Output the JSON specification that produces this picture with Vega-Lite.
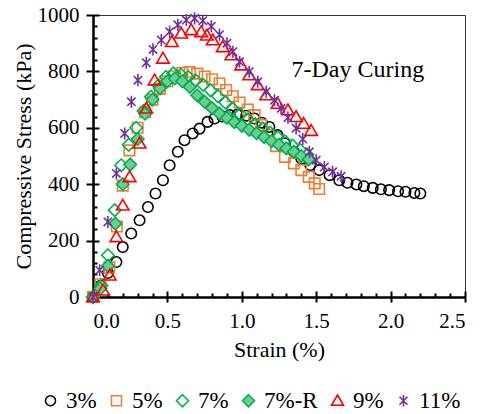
{
  "$schema": "https://vega.github.io/schema/vega-lite/v6.json",
  "width": 372,
  "height": 282,
  "autosize": {"type": "none"},
  "padding": {"left": 93, "top": 15, "right": 20, "bottom": 117},
  "background": "white",
  "config": {
    "view": {"stroke": "#333333", "strokeWidth": 1},
    "font": "Liberation Serif",
    "axis": {"grid": false, "domainColor": "black", "tickColor": "black", "domainWidth": 2.5, "tickWidth": 2, "labelColor": "black", "titleColor": "black", "labelFont": "Liberation Serif", "titleFont": "Liberation Serif", "labelFontSize": 21, "titleFontSize": 22, "titleFontWeight": "normal"}
  },
  "datasets": {
    "pts": [
      {"series": "3%", "strain": 0, "stress": 0},
      {"series": "3%", "strain": 0.05, "stress": 40},
      {"series": "3%", "strain": 0.1, "stress": 85},
      {"series": "3%", "strain": 0.157, "stress": 124},
      {"series": "3%", "strain": 0.2, "stress": 177},
      {"series": "3%", "strain": 0.257, "stress": 225},
      {"series": "3%", "strain": 0.313, "stress": 272},
      {"series": "3%", "strain": 0.369, "stress": 319},
      {"series": "3%", "strain": 0.42, "stress": 367},
      {"series": "3%", "strain": 0.47, "stress": 414},
      {"series": "3%", "strain": 0.515, "stress": 467},
      {"series": "3%", "strain": 0.57, "stress": 515},
      {"series": "3%", "strain": 0.615, "stress": 556},
      {"series": "3%", "strain": 0.67, "stress": 580},
      {"series": "3%", "strain": 0.716, "stress": 597},
      {"series": "3%", "strain": 0.77, "stress": 621},
      {"series": "3%", "strain": 0.817, "stress": 633},
      {"series": "3%", "strain": 0.87, "stress": 640},
      {"series": "3%", "strain": 0.92, "stress": 645},
      {"series": "3%", "strain": 0.97, "stress": 647},
      {"series": "3%", "strain": 1.03, "stress": 643},
      {"series": "3%", "strain": 1.085, "stress": 633},
      {"series": "3%", "strain": 1.135, "stress": 618},
      {"series": "3%", "strain": 1.185, "stress": 603},
      {"series": "3%", "strain": 1.24, "stress": 574},
      {"series": "3%", "strain": 1.29, "stress": 545},
      {"series": "3%", "strain": 1.35, "stress": 515},
      {"series": "3%", "strain": 1.4, "stress": 490},
      {"series": "3%", "strain": 1.46, "stress": 468},
      {"series": "3%", "strain": 1.52, "stress": 450},
      {"series": "3%", "strain": 1.59, "stress": 432},
      {"series": "3%", "strain": 1.655, "stress": 414},
      {"series": "3%", "strain": 1.71, "stress": 405},
      {"series": "3%", "strain": 1.77, "stress": 399},
      {"series": "3%", "strain": 1.82, "stress": 393},
      {"series": "3%", "strain": 1.88, "stress": 387},
      {"series": "3%", "strain": 1.935, "stress": 382},
      {"series": "3%", "strain": 1.99, "stress": 379},
      {"series": "3%", "strain": 2.05, "stress": 375},
      {"series": "3%", "strain": 2.1, "stress": 373},
      {"series": "3%", "strain": 2.16, "stress": 369},
      {"series": "3%", "strain": 2.2, "stress": 367},
      {"series": "5%", "strain": 0, "stress": 0},
      {"series": "5%", "strain": 0.05, "stress": 45},
      {"series": "5%", "strain": 0.11, "stress": 105},
      {"series": "5%", "strain": 0.16, "stress": 250},
      {"series": "5%", "strain": 0.2, "stress": 395},
      {"series": "5%", "strain": 0.245, "stress": 520},
      {"series": "5%", "strain": 0.3, "stress": 600},
      {"series": "5%", "strain": 0.35, "stress": 655},
      {"series": "5%", "strain": 0.4, "stress": 700},
      {"series": "5%", "strain": 0.45, "stress": 738},
      {"series": "5%", "strain": 0.5, "stress": 765},
      {"series": "5%", "strain": 0.55, "stress": 783},
      {"series": "5%", "strain": 0.6, "stress": 795},
      {"series": "5%", "strain": 0.65, "stress": 798},
      {"series": "5%", "strain": 0.7, "stress": 792},
      {"series": "5%", "strain": 0.75, "stress": 782},
      {"series": "5%", "strain": 0.8, "stress": 772},
      {"series": "5%", "strain": 0.85, "stress": 757},
      {"series": "5%", "strain": 0.895, "stress": 734},
      {"series": "5%", "strain": 0.94, "stress": 712},
      {"series": "5%", "strain": 0.985, "stress": 690},
      {"series": "5%", "strain": 1.04, "stress": 665},
      {"series": "5%", "strain": 1.085, "stress": 645},
      {"series": "5%", "strain": 1.13, "stress": 610},
      {"series": "5%", "strain": 1.18, "stress": 575},
      {"series": "5%", "strain": 1.23, "stress": 535},
      {"series": "5%", "strain": 1.29, "stress": 497},
      {"series": "5%", "strain": 1.35, "stress": 474},
      {"series": "5%", "strain": 1.4, "stress": 450},
      {"series": "5%", "strain": 1.45, "stress": 426},
      {"series": "5%", "strain": 1.49, "stress": 403},
      {"series": "5%", "strain": 1.52, "stress": 383},
      {"series": "7%", "strain": 0, "stress": 0},
      {"series": "7%", "strain": 0.056, "stress": 41},
      {"series": "7%", "strain": 0.1, "stress": 148},
      {"series": "7%", "strain": 0.146, "stress": 308},
      {"series": "7%", "strain": 0.19, "stress": 467},
      {"series": "7%", "strain": 0.24, "stress": 540},
      {"series": "7%", "strain": 0.29, "stress": 600},
      {"series": "7%", "strain": 0.34, "stress": 660},
      {"series": "7%", "strain": 0.39, "stress": 710},
      {"series": "7%", "strain": 0.44, "stress": 750},
      {"series": "7%", "strain": 0.49, "stress": 780},
      {"series": "7%", "strain": 0.54, "stress": 793},
      {"series": "7%", "strain": 0.59, "stress": 788},
      {"series": "7%", "strain": 0.64, "stress": 780},
      {"series": "7%", "strain": 0.69, "stress": 768},
      {"series": "7%", "strain": 0.74, "stress": 752},
      {"series": "7%", "strain": 0.79, "stress": 733},
      {"series": "7%", "strain": 0.84, "stress": 712},
      {"series": "7%", "strain": 0.89, "stress": 690},
      {"series": "7%", "strain": 0.94, "stress": 668},
      {"series": "7%", "strain": 0.99, "stress": 648},
      {"series": "7%", "strain": 1.04, "stress": 630},
      {"series": "7%", "strain": 1.09, "stress": 613},
      {"series": "7%", "strain": 1.14, "stress": 598},
      {"series": "7%", "strain": 1.19, "stress": 583},
      {"series": "7%", "strain": 1.24, "stress": 567},
      {"series": "7%", "strain": 1.29, "stress": 552},
      {"series": "7%", "strain": 1.34, "stress": 537},
      {"series": "7%", "strain": 1.39, "stress": 522},
      {"series": "7%", "strain": 1.44, "stress": 505},
      {"series": "7%-R", "strain": 0, "stress": 0},
      {"series": "7%-R", "strain": 0.05, "stress": 30},
      {"series": "7%-R", "strain": 0.1, "stress": 110},
      {"series": "7%-R", "strain": 0.15, "stress": 260},
      {"series": "7%-R", "strain": 0.2, "stress": 400},
      {"series": "7%-R", "strain": 0.25, "stress": 470},
      {"series": "7%-R", "strain": 0.3, "stress": 560},
      {"series": "7%-R", "strain": 0.35, "stress": 650},
      {"series": "7%-R", "strain": 0.4, "stress": 700},
      {"series": "7%-R", "strain": 0.45, "stress": 740},
      {"series": "7%-R", "strain": 0.5, "stress": 765},
      {"series": "7%-R", "strain": 0.55, "stress": 775},
      {"series": "7%-R", "strain": 0.6, "stress": 765},
      {"series": "7%-R", "strain": 0.65, "stress": 745},
      {"series": "7%-R", "strain": 0.7, "stress": 715},
      {"series": "7%-R", "strain": 0.75, "stress": 692},
      {"series": "7%-R", "strain": 0.8, "stress": 670},
      {"series": "7%-R", "strain": 0.85, "stress": 651},
      {"series": "7%-R", "strain": 0.9, "stress": 635},
      {"series": "7%-R", "strain": 0.95, "stress": 620},
      {"series": "7%-R", "strain": 1.0, "stress": 607},
      {"series": "7%-R", "strain": 1.05, "stress": 593},
      {"series": "7%-R", "strain": 1.1, "stress": 580},
      {"series": "7%-R", "strain": 1.15, "stress": 567},
      {"series": "7%-R", "strain": 1.2, "stress": 553},
      {"series": "7%-R", "strain": 1.25, "stress": 540},
      {"series": "7%-R", "strain": 1.3, "stress": 527},
      {"series": "7%-R", "strain": 1.35, "stress": 515},
      {"series": "7%-R", "strain": 1.4, "stress": 500},
      {"series": "7%-R", "strain": 1.45, "stress": 488},
      {"series": "9%", "strain": 0, "stress": 0},
      {"series": "9%", "strain": 0.067, "stress": 24},
      {"series": "9%", "strain": 0.112, "stress": 77},
      {"series": "9%", "strain": 0.157, "stress": 213},
      {"series": "9%", "strain": 0.2, "stress": 325},
      {"series": "9%", "strain": 0.246, "stress": 426},
      {"series": "9%", "strain": 0.313, "stress": 545},
      {"series": "9%", "strain": 0.358, "stress": 669},
      {"series": "9%", "strain": 0.414, "stress": 769},
      {"series": "9%", "strain": 0.47, "stress": 846},
      {"series": "9%", "strain": 0.53, "stress": 905},
      {"series": "9%", "strain": 0.593, "stress": 935},
      {"series": "9%", "strain": 0.66, "stress": 947},
      {"series": "9%", "strain": 0.727, "stress": 940},
      {"series": "9%", "strain": 0.765, "stress": 928},
      {"series": "9%", "strain": 0.805, "stress": 911},
      {"series": "9%", "strain": 0.872, "stress": 887},
      {"series": "9%", "strain": 0.93, "stress": 858},
      {"series": "9%", "strain": 0.996, "stress": 822},
      {"series": "9%", "strain": 1.05, "stress": 787},
      {"series": "9%", "strain": 1.107, "stress": 752},
      {"series": "9%", "strain": 1.164, "stress": 716},
      {"series": "9%", "strain": 1.24, "stress": 686},
      {"series": "9%", "strain": 1.31, "stress": 663},
      {"series": "9%", "strain": 1.365, "stress": 639},
      {"series": "9%", "strain": 1.415, "stress": 615},
      {"series": "9%", "strain": 1.466, "stress": 590},
      {"series": "11%", "strain": 0, "stress": 0},
      {"series": "11%", "strain": 0.045, "stress": 95},
      {"series": "11%", "strain": 0.1, "stress": 266},
      {"series": "11%", "strain": 0.157, "stress": 438},
      {"series": "11%", "strain": 0.213, "stress": 580},
      {"series": "11%", "strain": 0.258, "stress": 692},
      {"series": "11%", "strain": 0.302, "stress": 769},
      {"series": "11%", "strain": 0.358, "stress": 831},
      {"series": "11%", "strain": 0.403, "stress": 878},
      {"series": "11%", "strain": 0.459, "stress": 911},
      {"series": "11%", "strain": 0.515, "stress": 941},
      {"series": "11%", "strain": 0.57, "stress": 965},
      {"series": "11%", "strain": 0.627, "stress": 982},
      {"series": "11%", "strain": 0.683, "stress": 988},
      {"series": "11%", "strain": 0.738, "stress": 980},
      {"series": "11%", "strain": 0.795, "stress": 960},
      {"series": "11%", "strain": 0.85, "stress": 930},
      {"series": "11%", "strain": 0.9, "stress": 900},
      {"series": "11%", "strain": 0.94, "stress": 870},
      {"series": "11%", "strain": 0.985, "stress": 834},
      {"series": "11%", "strain": 1.05, "stress": 799},
      {"series": "11%", "strain": 1.107, "stress": 763},
      {"series": "11%", "strain": 1.164, "stress": 728},
      {"series": "11%", "strain": 1.22, "stress": 698},
      {"series": "11%", "strain": 1.264, "stress": 669},
      {"series": "11%", "strain": 1.31, "stress": 636},
      {"series": "11%", "strain": 1.365, "stress": 598},
      {"series": "11%", "strain": 1.41, "stress": 560},
      {"series": "11%", "strain": 1.454, "stress": 515},
      {"series": "11%", "strain": 1.5, "stress": 485},
      {"series": "11%", "strain": 1.555, "stress": 461},
      {"series": "11%", "strain": 1.61, "stress": 444},
      {"series": "11%", "strain": 1.667, "stress": 428}
    ],
    "note": [{"label": "7-Day Curing", "strain": 1.78, "stress": 805}]
  },
  "layer": [
    {
      "data": {"name": "pts"},
      "mark": {"type": "point", "opacity": 1, "size": 110, "clip": false},
      "encoding": {
        "x": {"field": "strain", "type": "quantitative", "scale": {"domain": [0, 2.5], "nice": false},
          "axis": {"title": "Strain (%)", "values": [0, 0.5, 1, 1.5, 2, 2.5], "format": ".1f", "tickSize": 5, "labelPadding": 8, "titlePadding": 8, "labelFont": "Liberation Serif", "titleFont": "Liberation Serif"}},
        "y": {"field": "stress", "type": "quantitative", "scale": {"domain": [0, 1000], "nice": false},
          "axis": {"title": "Compressive Stress (kPa)", "values": [0, 200, 400, 600, 800, 1000], "format": "d", "tickSize": 7, "labelPadding": 7, "titlePadding": 2, "labelFont": "Liberation Serif", "titleFont": "Liberation Serif"}},
        "shape": {"field": "series", "type": "nominal",
          "scale": {"domain": ["3%", "5%", "7%", "7%-R", "9%", "11%"],
            "range": ["circle", "square", "M0,-1.2L1.2,0L0,1.2L-1.2,0Z", "M0,-1.2L1.2,0L0,1.2L-1.2,0Z", "M0,-1.15L1.2,0.9L-1.2,0.9Z", "M0,-1.15L0,1.15M-0.8,-0.8L0.8,0.8M-0.8,0.8L0.8,-0.8"]},
          "legend": {"title": null, "orient": "none", "legendX": -54, "legendY": 374, "direction": "horizontal",
            "labelFont": "Liberation Serif", "labelFontSize": 23, "labelColor": "black", "symbolSize": 100, "symbolStrokeWidth": 1.8, "columnPadding": 8, "labelOffset": 4}},
        "stroke": {"field": "series", "type": "nominal",
          "scale": {"domain": ["3%", "5%", "7%", "7%-R", "9%", "11%"],
            "range": ["#000000", "#ED7D31", "#00B050", "#00B050", "#FF0000", "#7030A0"]},
          "legend": {"title": null, "orient": "none", "legendX": -54, "legendY": 374, "direction": "horizontal",
            "labelFont": "Liberation Serif", "labelFontSize": 23, "labelColor": "black", "symbolSize": 100, "symbolStrokeWidth": 1.8, "columnPadding": 8, "labelOffset": 4}},
        "fill": {"field": "series", "type": "nominal",
          "scale": {"domain": ["3%", "5%", "7%", "7%-R", "9%", "11%"],
            "range": ["transparent", "transparent", "transparent", "#6FCB93", "transparent", "transparent"]},
          "legend": {"title": null, "orient": "none", "legendX": -54, "legendY": 374, "direction": "horizontal",
            "labelFont": "Liberation Serif", "labelFontSize": 23, "labelColor": "black", "symbolSize": 100, "symbolStrokeWidth": 1.8, "columnPadding": 8, "labelOffset": 4}},
        "strokeWidth": {"field": "series", "type": "nominal",
          "scale": {"domain": ["3%", "5%", "7%", "7%-R", "9%", "11%"], "range": [1.6, 1.6, 1.6, 1.6, 1.6, 2.4]},
          "legend": null}
      }
    },
    {
      "data": {"name": "pts"},
      "mark": {"type": "point", "opacity": 0},
      "encoding": {
        "x": {"field": "strain", "type": "quantitative",
          "axis": {"orient": "bottom", "title": null, "labels": false, "domain": false,
            "values": [0, 0.1, 0.2, 0.3, 0.4, 0.5, 0.6, 0.7, 0.8, 0.9, 1, 1.1, 1.2, 1.3, 1.4, 1.5, 1.6, 1.7, 1.8, 1.9, 2, 2.1, 2.2, 2.3, 2.4, 2.5],
            "tickSize": {"condition": {"test": "abs(datum.value*2 - round(datum.value*2)) < 0.001", "value": -6}, "value": -4}}},
        "y": {"field": "stress", "type": "quantitative",
          "axis": {"orient": "left", "title": null, "labels": false, "domain": false,
            "values": [0, 40, 80, 120, 160, 200, 240, 280, 320, 360, 400, 440, 480, 520, 560, 600, 640, 680, 720, 760, 800, 840, 880, 920, 960, 1000],
            "tickSize": {"condition": {"test": "datum.value % 200 == 0", "value": -6}, "value": -4}}}
      }
    },
    {
      "data": {"name": "note"},
      "mark": {"type": "text", "fontSize": 24, "font": "Liberation Serif", "color": "black"},
      "encoding": {
        "x": {"field": "strain", "type": "quantitative", "axis": null},
        "y": {"field": "stress", "type": "quantitative", "axis": null},
        "text": {"field": "label"}
      }
    }
  ],
  "resolve": {"axis": {"x": "independent", "y": "independent"}}
}
